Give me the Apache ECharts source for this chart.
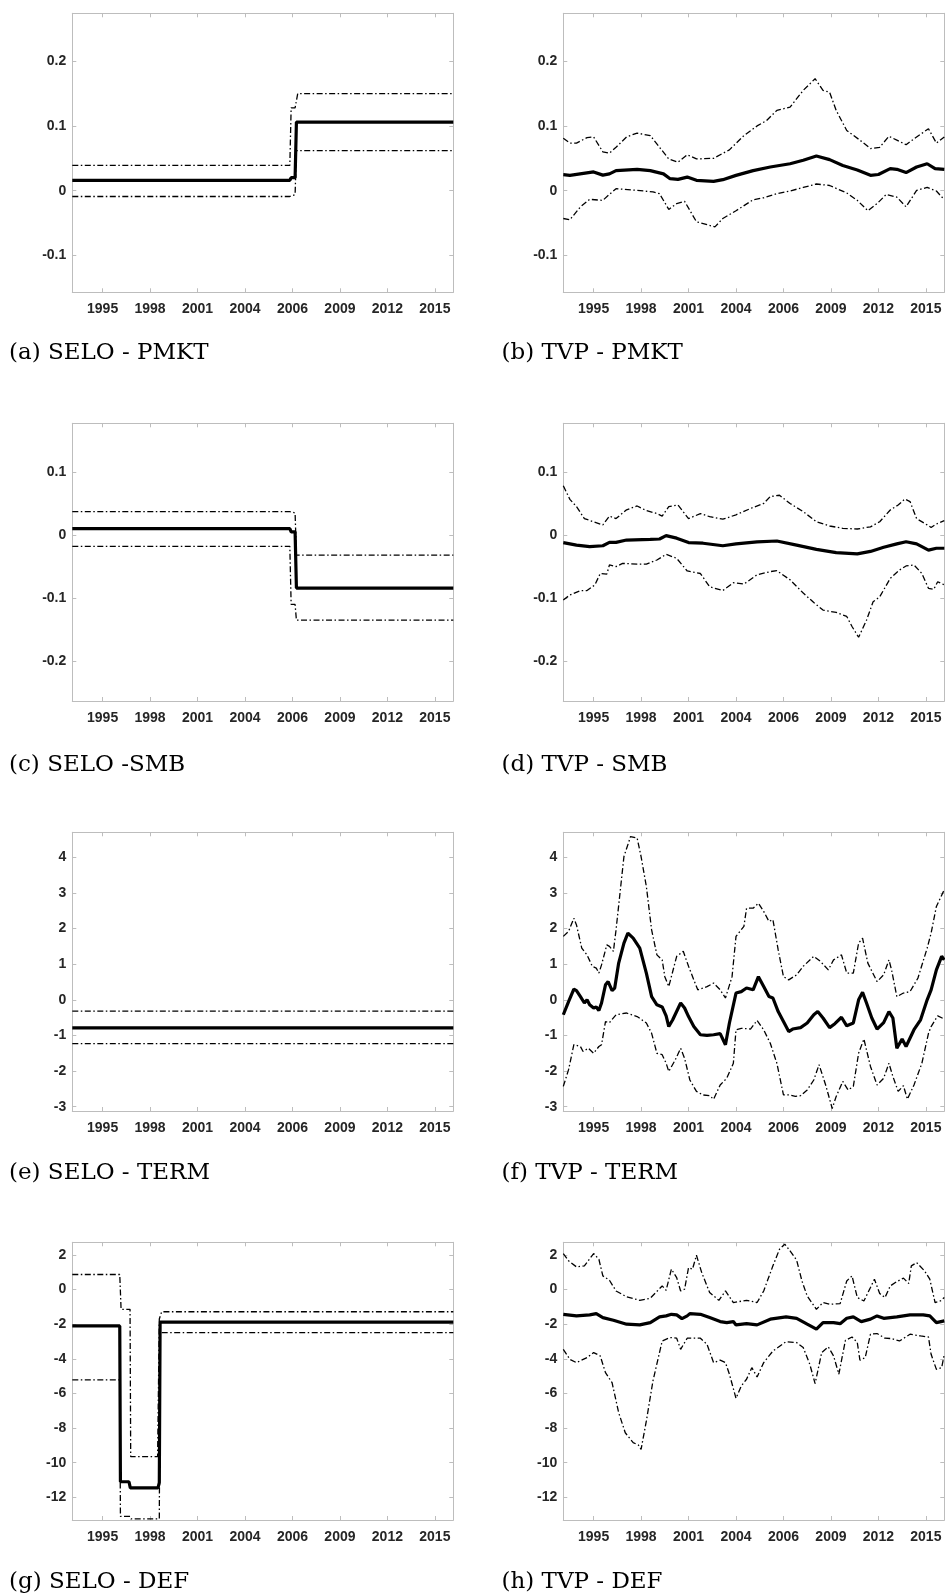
<!DOCTYPE html>
<html>
<head>
<meta charset="utf-8">
<script src="https://cdn.jsdelivr.net/npm/echarts@6/dist/echarts.min.js"></script>
<style>
  html, body { margin: 0; padding: 0; background: #fff; }
  #chart { width: 945px; height: 1594px; }
</style>
</head>
<body>
<div id="chart"></div>
<script>
// x = monthly observation index (1..290), ticks every 36 obs
const xMin = 1
const xMax = 290
const xTickPos = [24, 60, 96, 132, 168, 204, 240, 276]
const xTickLabels = ['1995', '1998', '2001', '2004', '2006', '2009', '2012', '2015']

// y ranges + tick values per factor row
const pmktRange = [-0.157, 0.274]
const smbRange = [-0.263, 0.177]
const termRange = [-3.12, 4.70]
const defRange = [-13.31, 2.73]
const pmktTicks = [-0.1, 0, 0.1, 0.2]
const smbTicks = [-0.2, -0.1, 0, 0.1]
const termTicks = [-3, -2, -1, 0, 1, 2, 3, 4]
const defTicks = [-12, -10, -8, -6, -4, -2, 0, 2]

// SELO estimates (piecewise constant) : [obs, value]
const seloPmktMean = [[1, 0.016], [166, 0.016], [167, 0.02], [170, 0.02], [171, 0.106], [290, 0.106]]
const seloPmktUpper = [[1, 0.039], [166, 0.039], [167, 0.128], [170, 0.128], [172, 0.15], [290, 0.15]]
const seloPmktLower = [[1, -0.009], [166, -0.009], [167, -0.006], [170, -0.006], [171, 0.062], [290, 0.062]]

const seloSmbMean = [[1, 0.010], [166, 0.010], [167, 0.005], [170, 0.005], [171, -0.084], [290, -0.084]]
const seloSmbUpper = [[1, 0.037], [166, 0.037], [170, 0.035], [171, -0.032], [290, -0.032]]
const seloSmbLower = [[1, -0.018], [166, -0.018], [167, -0.110], [170, -0.110], [171, -0.135], [290, -0.135]]

const seloTermMean = [[1, -0.79], [290, -0.79]]
const seloTermUpper = [[1, -0.32], [290, -0.32]]
const seloTermLower = [[1, -1.23], [290, -1.23]]

const seloDefMean = [[1, -2.1], [37, -2.1], [37.5, -11.1], [44, -11.1], [45, -11.45], [66, -11.45], [67, -11.15], [67.6, -1.88], [290, -1.88]]
const seloDefUpper = [[1, 0.87], [37, 0.87], [38, -1.14], [44.8, -1.14], [45.3, -9.65], [65.7, -9.65], [67, -1.7], [68.8, -1.28], [290, -1.28]]
const seloDefLower = [[1, -5.22], [37, -5.22], [37.5, -13.1], [44.8, -13.1], [45.5, -13.25], [67, -13.25], [67.6, -2.49], [290, -2.49]]

// TVP estimates : [obs, value]
const tvpPmktMean = [[1, 0.0247], [6, 0.0237], [24, 0.029], [31, 0.024], [36, 0.026], [41, 0.031], [57, 0.033], [67, 0.031], [77, 0.026], [82, 0.0185], [88, 0.0175], [95, 0.021], [102, 0.016], [115, 0.0144], [122, 0.017], [132, 0.0236], [145, 0.031], [158, 0.0365], [173, 0.0416], [183, 0.047], [193, 0.0535], [203, 0.048], [213, 0.039], [224, 0.032], [234, 0.0237], [240, 0.025], [249, 0.034], [254, 0.033], [261, 0.028], [269, 0.0365], [277, 0.0416], [283, 0.034], [290, 0.033]]
const tvpPmktUpper = [[1, 0.081], [6, 0.0735], [11, 0.0735], [19, 0.082], [24, 0.083], [31, 0.06], [36, 0.058], [41, 0.067], [49, 0.083], [57, 0.089], [67, 0.085], [74, 0.067], [81, 0.049], [88, 0.044], [95, 0.0555], [102, 0.049], [115, 0.05], [127, 0.063], [138, 0.085], [148, 0.1], [155, 0.108], [163, 0.124], [173, 0.129], [183, 0.155], [192, 0.173], [198, 0.155], [203, 0.152], [208, 0.124], [216, 0.093], [226, 0.078], [234, 0.065], [241, 0.067], [248, 0.084], [254, 0.078], [261, 0.071], [269, 0.083], [278, 0.0956], [284, 0.0735], [290, 0.083]]
const tvpPmktLower = [[1, -0.043], [6, -0.045], [14, -0.025], [21, -0.0134], [31, -0.015], [36, -0.0057], [41, 0.003], [57, 0.0005], [69, -0.002], [74, -0.0046], [81, -0.029], [87, -0.02], [93, -0.0165], [102, -0.048], [116, -0.056], [122, -0.043], [132, -0.031], [145, -0.014], [153, -0.011], [163, -0.0046], [173, -0.0005], [183, 0.005], [193, 0.0103], [203, 0.008], [216, -0.0036], [224, -0.015], [232, -0.031], [239, -0.02], [246, -0.0057], [254, -0.01], [261, -0.025], [269, 0.0005], [277, 0.005], [284, -0.0005], [290, -0.014]]

const tvpSmbMean = [[1, -0.012], [11, -0.016], [21, -0.0185], [31, -0.017], [36, -0.0116], [41, -0.0116], [49, -0.008], [67, -0.007], [74, -0.0063], [79, -0.001], [87, -0.005], [96, -0.012], [107, -0.013], [122, -0.017], [132, -0.014], [148, -0.011], [163, -0.0095], [178, -0.016], [193, -0.0227], [208, -0.028], [224, -0.030], [234, -0.026], [244, -0.0195], [254, -0.014], [261, -0.0106], [269, -0.014], [278, -0.024], [284, -0.021], [290, -0.021]]
const tvpSmbUpper = [[1, 0.078], [6, 0.0565], [11, 0.045], [17, 0.026], [24, 0.021], [31, 0.016], [36, 0.030], [41, 0.026], [49, 0.040], [57, 0.046], [64, 0.0386], [72, 0.034], [76, 0.030], [81, 0.045], [88, 0.0475], [96, 0.026], [105, 0.034], [112, 0.029], [122, 0.025], [132, 0.032], [143, 0.042], [153, 0.050], [158, 0.061], [165, 0.063], [173, 0.050], [183, 0.037], [193, 0.021], [203, 0.0143], [213, 0.0106], [224, 0.0095], [234, 0.013], [241, 0.021], [249, 0.0396], [255, 0.0475], [260, 0.057], [264, 0.053], [269, 0.026], [277, 0.016], [280, 0.012], [284, 0.0174], [290, 0.0227]]
const tvpSmbLower = [[1, -0.103], [6, -0.095], [14, -0.088], [19, -0.088], [25, -0.079], [29, -0.061], [34, -0.062], [36, -0.0475], [41, -0.050], [46, -0.045], [57, -0.046], [64, -0.046], [72, -0.0396], [79, -0.0306], [87, -0.037], [95, -0.057], [105, -0.061], [112, -0.082], [122, -0.088], [130, -0.0755], [138, -0.0777], [148, -0.063], [158, -0.058], [163, -0.0565], [173, -0.071], [183, -0.092], [191, -0.107], [198, -0.119], [208, -0.1226], [216, -0.129], [220, -0.145], [225, -0.162], [231, -0.135], [236, -0.1057], [241, -0.098], [249, -0.0687], [256, -0.0555], [261, -0.049], [267, -0.0475], [273, -0.061], [278, -0.0845], [282, -0.086], [285, -0.074], [290, -0.079]]

const tvpTermMean = [[1, -0.42], [5, -0.05], [9, 0.30], [11, 0.26], [14, 0.09], [17, -0.09], [19, 0], [21, -0.14], [24, -0.23], [26, -0.20], [28, -0.30], [30, -0.09], [33, 0.42], [35, 0.51], [38, 0.26], [40, 0.33], [43, 1.03], [47, 1.59], [50, 1.87], [54, 1.73], [59, 1.45], [64, 0.75], [68, 0.09], [72, -0.14], [76, -0.20], [79, -0.45], [81, -0.75], [84, -0.56], [90, -0.09], [93, -0.23], [96, -0.47], [100, -0.75], [105, -0.98], [110, -1.0], [115, -0.98], [120, -0.95], [124, -1.26], [127, -0.65], [132, 0.19], [136, 0.23], [140, 0.33], [145, 0.28], [149, 0.65], [153, 0.37], [157, 0.09], [160, 0.05], [164, -0.33], [168, -0.61], [172, -0.89], [175, -0.82], [181, -0.78], [186, -0.65], [191, -0.42], [194, -0.33], [198, -0.51], [203, -0.78], [207, -0.67], [212, -0.49], [216, -0.73], [221, -0.65], [225, 0], [228, 0.21], [231, -0.09], [235, -0.51], [239, -0.82], [244, -0.64], [248, -0.33], [251, -0.51], [254, -1.36], [258, -1.10], [261, -1.31], [267, -0.84], [272, -0.56], [277, 0], [280, 0.28], [284, 0.84], [288, 1.22], [290, 1.12]]
const tvpTermUpper = [[1, 1.78], [5, 1.92], [9, 2.29], [11, 2.10], [15, 1.45], [19, 1.26], [23, 0.94], [26, 0.89], [28, 0.75], [30, 0.98], [34, 1.54], [36, 1.50], [39, 1.36], [41, 1.96], [47, 4.02], [52, 4.58], [57, 4.54], [60, 4.02], [64, 3.18], [68, 1.96], [72, 1.26], [76, 1.12], [78, 0.65], [81, 0.37], [87, 1.22], [92, 1.36], [96, 0.94], [100, 0.56], [103, 0.28], [110, 0.37], [115, 0.47], [120, 0.28], [124, 0.05], [129, 0.65], [132, 1.78], [138, 2.06], [140, 2.57], [145, 2.57], [149, 2.71], [153, 2.48], [157, 2.20], [160, 2.25], [164, 1.40], [168, 0.65], [172, 0.56], [178, 0.70], [183, 0.94], [191, 1.22], [196, 1.08], [202, 0.84], [206, 1.12], [212, 1.26], [216, 0.75], [221, 0.75], [225, 1.59], [228, 1.73], [232, 1.03], [239, 0.51], [244, 0.70], [248, 1.12], [250, 0.84], [254, 0.09], [259, 0.19], [264, 0.23], [270, 0.61], [277, 1.45], [280, 1.87], [284, 2.62], [290, 3.09]]
const tvpTermLower = [[1, -2.43], [5, -1.96], [9, -1.26], [14, -1.31], [16, -1.45], [20, -1.36], [24, -1.50], [28, -1.31], [30, -1.26], [33, -0.61], [36, -0.64], [41, -0.42], [49, -0.37], [57, -0.47], [64, -0.65], [68, -0.94], [72, -1.50], [76, -1.54], [79, -1.78], [81, -2.01], [86, -1.68], [90, -1.36], [93, -1.64], [97, -2.25], [102, -2.57], [107, -2.67], [112, -2.69], [115, -2.79], [120, -2.39], [125, -2.20], [130, -1.78], [132, -0.84], [136, -0.80], [143, -0.82], [148, -0.58], [153, -0.84], [158, -1.22], [163, -1.78], [168, -2.67], [173, -2.67], [177, -2.71], [181, -2.69], [186, -2.53], [191, -2.25], [195, -1.82], [200, -2.39], [205, -3.05], [208, -2.71], [213, -2.29], [217, -2.53], [221, -2.43], [225, -1.50], [229, -1.10], [234, -1.87], [239, -2.39], [244, -2.20], [248, -1.78], [251, -2.15], [255, -2.57], [259, -2.41], [262, -2.79], [267, -2.39], [273, -1.78], [278, -0.94], [280, -0.75], [285, -0.45], [290, -0.54]]

const tvpDefMean = [[1, -1.43], [11, -1.52], [21, -1.46], [26, -1.39], [31, -1.62], [39, -1.77], [49, -2.0], [59, -2.04], [67, -1.91], [74, -1.58], [79, -1.52], [83, -1.43], [87, -1.46], [91, -1.68], [95, -1.52], [97, -1.39], [105, -1.43], [112, -1.62], [120, -1.85], [125, -1.91], [130, -1.85], [132, -2.04], [140, -1.97], [148, -2.04], [158, -1.71], [170, -1.58], [178, -1.66], [186, -2.0], [193, -2.29], [198, -1.91], [206, -1.91], [211, -1.97], [216, -1.66], [221, -1.58], [227, -1.85], [234, -1.71], [239, -1.52], [244, -1.66], [254, -1.58], [264, -1.46], [274, -1.46], [279, -1.52], [284, -1.91], [290, -1.81]]
const tvpDefUpper = [[1, 2.08], [5, 1.66], [11, 1.31], [17, 1.37], [24, 2.08], [28, 1.75], [31, 0.79], [36, 0.54], [41, -0.08], [49, -0.42], [59, -0.62], [67, -0.50], [76, 0.21], [79, -0.04], [83, 1.18], [87, 0.69], [90, -0.08], [93, 0.02], [96, 1.27], [99, 1.18], [102, 1.98], [106, 0.98], [112, -0.17], [119, -0.62], [124, -0.08], [130, -0.75], [140, -0.62], [148, -0.75], [153, -0.08], [160, 1.37], [165, 2.33], [169, 2.62], [173, 2.24], [178, 1.70], [182, 0.50], [186, -0.37], [193, -1.14], [198, -0.75], [203, -0.85], [211, -0.81], [216, 0.50], [220, 0.79], [224, -0.46], [229, -0.66], [234, 0.12], [237, 0.60], [241, -0.23], [245, -0.46], [249, 0.21], [254, 0.46], [259, 0.66], [263, 0.35], [265, 1.37], [269, 1.56], [275, 1.08], [279, 0.60], [283, -0.75], [287, -0.66], [290, -0.46]]
const tvpDefLower = [[1, -3.45], [6, -4.03], [11, -4.22], [19, -3.93], [24, -3.64], [29, -3.83], [33, -4.80], [38, -5.38], [43, -7.11], [48, -8.27], [54, -8.84], [58, -8.98], [60, -9.23], [64, -7.59], [69, -5.28], [76, -2.97], [82, -2.77], [87, -2.81], [90, -3.45], [95, -2.81], [105, -2.81], [110, -3.16], [115, -4.22], [120, -4.08], [124, -4.22], [127, -4.89], [132, -6.28], [136, -5.57], [140, -5.18], [144, -4.51], [148, -5.05], [153, -4.22], [160, -3.55], [170, -3.01], [178, -3.06], [183, -3.35], [188, -4.32], [192, -5.43], [197, -3.64], [202, -3.31], [206, -3.83], [210, -4.89], [215, -2.93], [220, -2.74], [224, -3.06], [226, -4.08], [230, -3.93], [234, -2.58], [239, -2.54], [245, -2.81], [250, -2.83], [256, -2.97], [264, -2.58], [272, -2.68], [278, -2.74], [280, -3.74], [284, -4.61], [288, -4.51], [290, -3.74]]

const panels = [
  { caption: '(a) SELO - PMKT', col: 0, row: 0, range: pmktRange, ticks: pmktTicks, mean: seloPmktMean, upper: seloPmktUpper, lower: seloPmktLower },
  { caption: '(b) TVP - PMKT', col: 1, row: 0, range: pmktRange, ticks: pmktTicks, mean: tvpPmktMean, upper: tvpPmktUpper, lower: tvpPmktLower },
  { caption: '(c) SELO -SMB', col: 0, row: 1, range: smbRange, ticks: smbTicks, mean: seloSmbMean, upper: seloSmbUpper, lower: seloSmbLower },
  { caption: '(d) TVP - SMB', col: 1, row: 1, range: smbRange, ticks: smbTicks, mean: tvpSmbMean, upper: tvpSmbUpper, lower: tvpSmbLower },
  { caption: '(e) SELO - TERM', col: 0, row: 2, range: termRange, ticks: termTicks, mean: seloTermMean, upper: seloTermUpper, lower: seloTermLower },
  { caption: '(f) TVP - TERM', col: 1, row: 2, range: termRange, ticks: termTicks, mean: tvpTermMean, upper: tvpTermUpper, lower: tvpTermLower },
  { caption: '(g) SELO - DEF', col: 0, row: 3, range: defRange, ticks: defTicks, mean: seloDefMean, upper: seloDefUpper, lower: seloDefLower },
  { caption: '(h) TVP - DEF', col: 1, row: 3, range: defRange, ticks: defTicks, mean: tvpDefMean, upper: tvpDefUpper, lower: tvpDefLower }
]

// layout
const colLeft = [72.3, 563.3]
const captionLeft = [9, 501.5]
const plotW = 381
const rowTop = [13.3, 423.3, 832.3, 1242.3]
const rowH = [279, 277.7, 278.7, 277.7]
const captionY = [353.5, 765, 1173.5, 1582.5]

const axisGray = '#bdbdbd'
const labelFont = {
  color: '#262626',
  fontSize: 14,
  fontWeight: 'bold',
  fontFamily: "'Liberation Sans', Arial, sans-serif"
}
const bandStyle = { color: '#000', width: 1.3, type: [6, 2.5, 1.5, 2.5] }

const chart = echarts.init(document.getElementById('chart'))

const grids = []
const xAxes = []
const yAxes = []
const series = []
const graphics = []

panels.forEach((p, i) => {
  grids.push({
    left: colLeft[p.col], top: rowTop[p.row], width: plotW, height: rowH[p.row],
    containLabel: false, outerBoundsMode: 'none'
  })
  const line = { show: true, onZero: false, lineStyle: { color: axisGray, width: 1 } }
  const xTick = { show: true, inside: true, length: 4, customValues: xTickPos, lineStyle: { color: axisGray } }
  const yTick = { show: true, inside: true, length: 4, customValues: p.ticks, lineStyle: { color: axisGray } }

  xAxes.push({
    type: 'value', gridIndex: i, position: 'bottom', min: xMin, max: xMax,
    axisLine: line, axisTick: xTick, splitLine: { show: false },
    axisLabel: {
      ...labelFont, margin: 10, customValues: xTickPos,
      formatter: (v) => xTickLabels[xTickPos.indexOf(v)]
    }
  })
  xAxes.push({
    type: 'value', gridIndex: i, position: 'top', min: xMin, max: xMax,
    axisLine: line, axisTick: xTick, axisLabel: { show: false }, splitLine: { show: false }
  })
  yAxes.push({
    type: 'value', gridIndex: i, position: 'left', min: p.range[0], max: p.range[1],
    axisLine: line, axisTick: yTick, splitLine: { show: false },
    axisLabel: {
      ...labelFont, margin: 6, customValues: p.ticks,
      formatter: (v) => String(+v.toFixed(2))
    }
  })
  yAxes.push({
    type: 'value', gridIndex: i, position: 'right', min: p.range[0], max: p.range[1],
    axisLine: line, axisTick: yTick, axisLabel: { show: false }, splitLine: { show: false }
  })

  const common = { type: 'line', xAxisIndex: 2 * i, yAxisIndex: 2 * i, showSymbol: false, symbol: 'none', silent: true }
  series.push({ ...common, name: 'upper', data: p.upper, lineStyle: bandStyle, z: 2 })
  series.push({ ...common, name: 'lower', data: p.lower, lineStyle: bandStyle, z: 2 })
  series.push({ ...common, name: 'mean', data: p.mean, lineStyle: { color: '#000', width: 3.2 }, z: 3 })

  graphics.push({
    type: 'text', x: captionLeft[p.col], y: captionY[p.row],
    style: {
      text: p.caption, fill: '#000', fontSize: 23,
      fontFamily: "'DejaVu Serif', 'Liberation Serif', serif",
      verticalAlign: 'middle', align: 'left'
    }
  })
})

chart.setOption({
  backgroundColor: '#fff',
  animation: false,
  grid: grids,
  xAxis: xAxes,
  yAxis: yAxes,
  series: series,
  graphic: graphics
})
</script>
</body>
</html>
